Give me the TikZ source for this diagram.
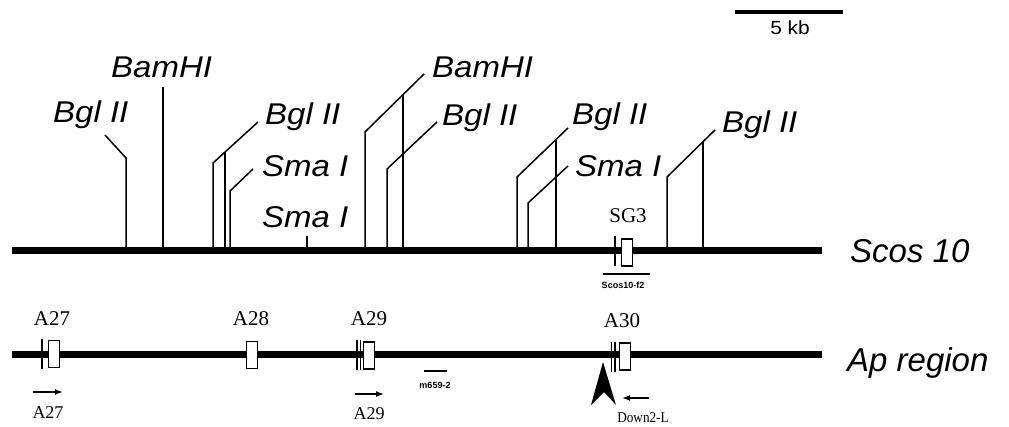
\documentclass[tikz,border=0pt]{standalone}
\usepackage{fontspec}
\setmainfont{Liberation Serif}
\newfontfamily\labf[FakeStretch=1.1]{Liberation Sans}
\newfontfamily\namef{Liberation Sans}
\usetikzlibrary{arrows.meta,calc}
\tikzset{
  site/.style={line width=1.5pt},
  chrom/.style={line width=7pt},
  enz/.style={inner sep=0pt, anchor=base west, font=\labf\itshape\fontsize{30}{30}\selectfont},
  seqname/.style={inner sep=0pt, anchor=base west, font=\namef\itshape\fontsize{33}{33}\selectfont},
  gene/.style={draw, fill=white, line width=1.3pt, minimum width=11pt, minimum height=27pt, inner sep=0pt},
  exlab/.style={inner sep=0pt, font=\fontsize{21}{21}\selectfont},
  primlab/.style={inner sep=0pt, font=\fontsize{18}{18}\selectfont},
  primer/.style={line width=1.5pt, -{Latex[length=8pt,width=6pt]}},
  tick/.style={line width=1.7pt},
  probe/.style={line width=1.5pt},
  tiny/.style={inner sep=0pt, font=\namef\bfseries\fontsize{9}{9}\selectfont}
}
\begin{document}
\begin{tikzpicture}[x=1pt,y=-1pt]
\useasboundingbox (0,0) rectangle (1009,427);

% scale bar
\coordinate (sb0) at (735,12); \coordinate (sb1) at (843,12);
\draw[line width=3.5pt] (sb0) -- (sb1);
\node[inner sep=0pt, font=\labf\fontsize{19}{19}\selectfont] (kb) at (790,28) {5 kb};

% chromosome lines
\coordinate (s0) at (12,251); \coordinate (s1) at (822,251);
\coordinate (a0) at (12,355); \coordinate (a1) at (822,355);
\draw[chrom] (s0) -- (s1);
\draw[chrom] (a0) -- (a1);
\node[seqname] (scos) at (850,263) {Scos 10};
\node[seqname] (apreg) at (847,371) {Ap region};

% enzyme labels
\node[enz] (bgl1) at (53,123) {Bgl II};
\node[enz] (bam1) at (111,78) {BamHI};
\node[enz] (bgl2) at (265,125) {Bgl II};
\node[enz] (sma1) at (262,177) {Sma I};
\node[enz] (sma2) at (262,228) {Sma I};
\node[enz] (bam2) at (432,78) {BamHI};
\node[enz] (bgl3) at (442,126) {Bgl II};
\node[enz] (bgl4) at (572,125) {Bgl II};
\node[enz] (sma3) at (575,177) {Sma I};
\node[enz] (bgl5) at (722,133) {Bgl II};

% leaders and sites
\coordinate (bgl1a) at (105,135); \coordinate (bgl1b) at (126,158);
\draw[site] (bgl1a) -- (bgl1b) -- (bgl1b |- s0);
\coordinate (bam1a) at (163,87);
\draw[site] (bam1a) -- (bam1a |- s0);
\coordinate (bgl2a) at (258,122); \coordinate (bgl2b) at (213,163);
\draw[site] (bgl2a) -- (bgl2b) -- (bgl2b |- s0);
\coordinate (bgl2m) at ($(bgl2a)!0.733!(bgl2b)$);
\draw[site] (bgl2m) -- (bgl2m |- s0);
\coordinate (sma1a) at (253,169); \coordinate (sma1b) at (230,191);
\draw[site] (sma1a) -- (sma1b) -- (sma1b |- s0);
\coordinate (sma2a) at (307,236);
\draw[site] (sma2a) -- (sma2a |- s0);
\coordinate (bam2a) at (424,74); \coordinate (bam2b) at (365,132);
\draw[site] (bam2a) -- (bam2b) -- (bam2b |- s0);
\coordinate (bam2m) at ($(bam2a)!0.356!(bam2b)$);
\draw[site] (bam2m) -- (bam2m |- s0);
\coordinate (bgl3a) at (437,122); \coordinate (bgl3b) at (387,169);
\draw[site] (bgl3a) -- (bgl3b) -- (bgl3b |- s0);
\coordinate (bgl4a) at (568,128); \coordinate (bgl4b) at (517,177);
\draw[site] (bgl4a) -- (bgl4b) -- (bgl4b |- s0);
\coordinate (bgl4m) at ($(bgl4a)!0.235!(bgl4b)$);
\draw[site] (bgl4m) -- (bgl4m |- s0);
\coordinate (sma3a) at (568,166); \coordinate (sma3b) at (528,203);
\draw[site] (sma3a) -- (sma3b) -- (sma3b |- s0);
\coordinate (bgl5a) at (715,130); \coordinate (bgl5b) at (667,177);
\draw[site] (bgl5a) -- (bgl5b) -- (bgl5b |- s0);
\coordinate (bgl5m) at ($(bgl5a)!0.25!(bgl5b)$);
\draw[site] (bgl5m) -- (bgl5m |- s0);

% SG3 on Scos 10
\coordinate (sgt0) at (615,236); \coordinate (sgt1) at (615,266);
\draw[tick] (sgt0) -- (sgt1);
\node[gene] (sg3box) at (627,252.5) {};
\node[exlab] (sg3) at (628,216) {SG3};
\coordinate (pf0) at (603,274); \coordinate (pf1) at (650,274);
\draw[probe] (pf0) -- (pf1);
\node[tiny] (pflab) at (623,285) {Scos10-f2};

% Ap region exons
\coordinate (t27a) at (42,339); \coordinate (t27b) at (42,369);
\draw[tick] (t27a) -- (t27b);
\node[gene] (e27) at (54,354) {};
\node[exlab] (l27) at (52,319) {A27};

\node[gene] (e28) at (252,355) {};
\node[exlab] (l28) at (251,319) {A28};

\coordinate (t29a) at (357,340); \coordinate (t29b) at (357,370);
\coordinate (t29c) at (360.5,340); \coordinate (t29d) at (360.5,370);
\draw[line width=1.1pt] (t29a) -- (t29b) (t29c) -- (t29d);
\node[gene] (e29) at (369,355.5) {};
\node[exlab] (l29) at (369,319) {A29};

\coordinate (t30a) at (611.5,342); \coordinate (t30b) at (611.5,372);
\coordinate (t30c) at (615,342); \coordinate (t30d) at (615,372);
\draw[line width=1.1pt] (t30a) -- (t30b) (t30c) -- (t30d);
\node[gene] (e30) at (625,356.5) {};
\node[exlab] (l30) at (622,321) {A30};

% m659-2 probe
\coordinate (m0) at (424,371); \coordinate (m1) at (447,371);
\draw[probe] (m0) -- (m1);
\node[tiny] (mlab) at (435,385) {m659-2};

% primers
\coordinate (p27a) at (33,392); \coordinate (p27b) at (63,392);
\draw[primer] (p27a) -- (p27b);
\node[primlab] (pl27) at (48,413) {A27};
\coordinate (p29a) at (355,394); \coordinate (p29b) at (384,394);
\draw[primer] (p29a) -- (p29b);
\node[primlab] (pl29) at (369,414) {A29};
\coordinate (pda) at (649,398); \coordinate (pdb) at (622,398);
\draw[primer] (pda) -- (pdb);
\node[primlab, font=\fontsize{15}{15}\selectfont, xscale=0.88] (pldown) at (643,418) {Down2-L};

% breakpoint arrowhead
\coordinate (bp) at (603,362);
\fill (bp) -- (616,405) -- (604,392) -- (591,405) -- cycle;
\end{tikzpicture}
\end{document}
